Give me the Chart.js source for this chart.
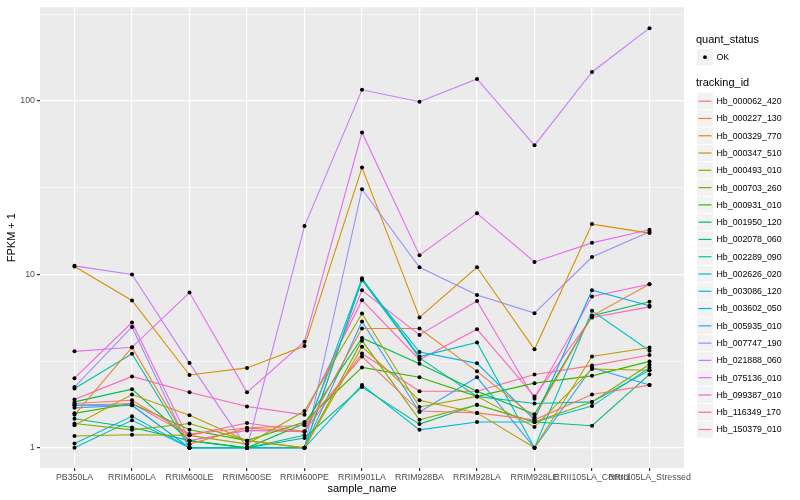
<!DOCTYPE html>
<html>
<head>
<meta charset="utf-8">
<script src="https://cdn.jsdelivr.net/npm/chart.js@4.4.1/dist/chart.umd.min.js"></script>
<style>
  body { margin: 0; background: #fff; }
  canvas { display: block; }
</style>
</head>
<body>
<canvas id="fpkm" width="800" height="500"></canvas>
<script>
// sample names on the x axis
const samples = ["PB350LA", "RRIM600LA", "RRIM600LE", "RRIM600SE", "RRIM600PE", "RRIM901LA",
  "RRIM928BA", "RRIM928LA", "RRIM928LE", "RRII105LA_Control", "RRII105LA_Stressed"];

// FPKM + 1 per tracking id, one value per sample
const hb_000062_420 = [1.8, 1.88, 1.2, 1.3, 1.35, 3.36, 1.63, 1.59, 1.45, 2.03, 2.3];
const hb_000227_130 = [1.55, 3.79, 1.05, 1.3, 1.24, 4.88, 4.88, 2.76, 1.5, 5.77, 8.77];
const hb_000329_770 = [11.1, 7.07, 2.63, 2.89, 3.86, 41.3, 5.65, 11.0, 3.7, 19.5, 17.3];
const hb_000347_510 = [1.35, 2.03, 1.54, 1.1, 1.0, 3.83, 1.88, 1.59, 1.0, 3.36, 3.79];
const hb_000493_010 = [1.17, 1.19, 1.18, 1.05, 1.63, 5.95, 1.72, 1.98, 1.32, 2.85, 2.8];
const hb_000703_260 = [1.38, 1.27, 1.38, 1.1, 1.0, 4.15, 1.45, 1.77, 1.41, 1.84, 3.02];
const hb_000931_010 = [1.58, 1.8, 1.27, 1.1, 1.41, 2.91, 2.55, 1.98, 2.36, 2.6, 3.15];
const hb_001950_120 = [1.84, 2.18, 1.1, 1.0, 1.38, 4.3, 3.05, 2.12, 1.56, 5.77, 6.96];
const hb_002078_060 = [1.47, 1.31, 1.1, 1.0, 1.14, 2.24, 1.37, 1.77, 1.41, 1.34, 2.65];
const hb_002289_090 = [2.2, 3.49, 1.0, 1.0, 1.0, 9.3, 3.3, 1.98, 1.8, 1.84, 2.8];
const hb_002626_020 = [1.0, 1.44, 1.0, 1.0, 1.18, 9.5, 3.36, 4.05, 1.0, 6.17, 3.63];
const hb_003086_120 = [1.06, 1.52, 1.0, 1.0, 1.0, 2.3, 1.27, 1.41, 1.41, 1.74, 2.9];
const hb_003602_050 = [1.76, 1.76, 1.0, 1.0, 1.0, 9.3, 3.57, 3.07, 1.45, 8.1, 6.6];
const hb_005935_010 = [1.7, 1.76, 1.0, 1.0, 1.0, 5.35, 1.61, 2.55, 1.0, 2.9, 2.3];
const hb_007747_190 = [2.24, 4.98, 1.0, 1.0, 1.0, 31, 11.0, 7.6, 5.98, 12.6, 17.6];
const hb_021888_060 = [11.2, 10, 3.08, 1.0, 19, 116, 99, 134, 55.5, 147, 263];
const hb_075136_010 = [3.6, 3.8, 7.86, 2.09, 4.09, 65.9, 12.9, 22.5, 11.8, 15.2, 18.1];
const hb_099387_010 = [2.52, 5.28, 1.1, 1.26, 1.24, 8.1, 4.48, 7.02, 1.92, 7.45, 8.77];
const hb_116349_170 = [1.9, 2.58, 2.09, 1.73, 1.55, 7.1, 3.22, 4.83, 1.98, 5.65, 6.5];
const hb_150379_010 = [1.76, 1.8, 1.18, 1.39, 1.24, 3.5, 2.12, 2.12, 2.65, 2.98, 3.43];

const trackingIds = ["Hb_000062_420", "Hb_000227_130", "Hb_000329_770", "Hb_000347_510",
  "Hb_000493_010", "Hb_000703_260", "Hb_000931_010", "Hb_001950_120", "Hb_002078_060",
  "Hb_002289_090", "Hb_002626_020", "Hb_003086_120", "Hb_003602_050", "Hb_005935_010",
  "Hb_007747_190", "Hb_021888_060", "Hb_075136_010", "Hb_099387_010", "Hb_116349_170",
  "Hb_150379_010"];
const seriesValues = [hb_000062_420, hb_000227_130, hb_000329_770, hb_000347_510,
  hb_000493_010, hb_000703_260, hb_000931_010, hb_001950_120, hb_002078_060,
  hb_002289_090, hb_002626_020, hb_003086_120, hb_003602_050, hb_005935_010,
  hb_007747_190, hb_021888_060, hb_075136_010, hb_099387_010, hb_116349_170,
  hb_150379_010];

const yTicks = [1, 3.1623, 10, 31.623, 100, 316.23];
const yMajor = [1, 10, 100];

const FONT = '"Liberation Sans", Arial, sans-serif';

// ggplot style hue palette (hcl with c=100, l=65)
function hcl(h, c, l) {
  const hr = h * Math.PI / 180;
  const U = c * Math.cos(hr), V = c * Math.sin(hr);
  const Xn = 95.047, Yn = 100, Zn = 108.883;
  const Y = Yn * Math.pow((l + 16) / 116, 3);
  const t = Xn + 15 * Yn + 3 * Zn;
  const u = U / (13 * l) + 4 * Xn / t;
  const v = V / (13 * l) + 9 * Yn / t;
  const X = Y * 9 * u / (4 * v);
  const Z = Y * (12 - 3 * u - 20 * v) / (4 * v);
  const x = X / 100, y = Y / 100, z = Z / 100;
  const lin = [
    3.240479 * x - 1.537150 * y - 0.498535 * z,
    -0.969256 * x + 1.875992 * y + 0.041556 * z,
    0.055648 * x - 0.204043 * y + 1.057311 * z
  ];
  const rgb = lin.map(ch => {
    let g = ch <= 0.0031308 ? 12.92 * ch : 1.055 * Math.pow(ch, 1 / 2.4) - 0.055;
    return Math.round(Math.min(1, Math.max(0, g)) * 255);
  });
  return `rgb(${rgb[0]},${rgb[1]},${rgb[2]})`;
}
const colours = trackingIds.map((id, i) => hcl(15 + i * 360 / trackingIds.length, 100, 65));

const lineSets = trackingIds.map((id, i) => ({
  label: id,
  data: seriesValues[i].map((v, j) => ({ x: j, y: v })),
  borderColor: colours[i],
  backgroundColor: colours[i],
  borderWidth: 1.1,
  pointRadius: 0,
  tension: 0,
  order: 1
}));

// all the points, drawn on top of the lines
const pointSet = {
  label: "OK",
  isPoints: true,
  data: seriesValues.flatMap(vals => vals.map((v, j) => ({ x: j, y: v }))),
  showLine: false,
  pointRadius: 2,
  pointBackgroundColor: "#000",
  pointBorderWidth: 0,
  order: 0
};

const ggPlugin = {
  id: "ggLook",
  beforeDraw(chart) {
    const { ctx, chartArea: a } = chart;
    ctx.save();
    ctx.fillStyle = "#fff";
    ctx.fillRect(0, 0, chart.width, chart.height);
    ctx.fillStyle = "#EBEBEB";
    ctx.fillRect(a.left, a.top, a.right - a.left, a.bottom - a.top);
    ctx.restore();
  },
  afterDraw(chart) {
    const { ctx, chartArea: a } = chart;
    ctx.save();
    ctx.fillStyle = "#000";
    ctx.font = "11px " + FONT;
    ctx.textAlign = "center";
    ctx.textBaseline = "middle";
    ctx.fillText("sample_name", (a.left + a.right) / 2, 489);
    ctx.translate(12, (a.top + a.bottom) / 2);
    ctx.rotate(-Math.PI / 2);
    ctx.fillText("FPKM + 1", 0, 0);
    ctx.restore();

    // legend
    ctx.save();
    const lx = 697, kw = 16, kh = 16.3;
    ctx.textAlign = "left";
    ctx.textBaseline = "middle";
    ctx.fillStyle = "#000";
    ctx.font = "11px " + FONT;
    ctx.fillText("quant_status", 696, 40);
    ctx.fillStyle = "#F2F2F2";
    ctx.fillRect(lx, 49, kw, kh);
    ctx.fillStyle = "#000";
    ctx.beginPath();
    ctx.arc(lx + kw / 2, 49 + kh / 2, 1.9, 0, Math.PI * 2);
    ctx.fill();
    ctx.font = "8.8px " + FONT;
    ctx.fillText("OK", 716.5, 57.5);

    ctx.font = "11px " + FONT;
    ctx.fillText("tracking_id", 696, 83);
    const sets = chart.data.datasets.filter(d => !d.isPoints);
    sets.forEach((d, i) => {
      const cy = 101.2 + i * 17.28;
      ctx.fillStyle = "#F2F2F2";
      ctx.fillRect(lx, cy - kh / 2, kw, kh);
      ctx.strokeStyle = d.borderColor;
      ctx.lineWidth = 1.2;
      ctx.beginPath();
      ctx.moveTo(lx + 1.5, cy);
      ctx.lineTo(lx + kw - 1.5, cy);
      ctx.stroke();
      ctx.fillStyle = "#000";
      ctx.font = "8.8px " + FONT;
      ctx.fillText(d.label, 716.5, cy + 0.5);
    });
    ctx.restore();
  }
};

new Chart(document.getElementById("fpkm"), {
  type: "line",
  data: { datasets: [pointSet, ...lineSets] },
  options: {
    responsive: false,
    animation: false,
    layout: { padding: { left: 0, right: 116, top: 5, bottom: 0 } },
    plugins: { legend: { display: false }, tooltip: { enabled: false } },
    scales: {
      x: {
        type: "linear",
        min: -0.6,
        max: 10.6,
        afterBuildTicks: s => { s.ticks = samples.map((n, i) => ({ value: i })); },
        afterFit: s => { s.height = 32; s.paddingLeft = 0; s.paddingRight = 0; },
        ticks: {
          autoSkip: false, maxRotation: 0, minRotation: 0, padding: 1.5,
          color: "#4D4D4D", font: { family: FONT, size: 8.8 },
          callback: v => samples[v]
        },
        grid: { color: "#fff", lineWidth: 1.2, tickColor: "#333", tickLength: 3 },
        border: { display: false }
      },
      y: {
        type: "logarithmic",
        min: 0.765,
        max: 347,
        afterBuildTicks: s => { s.ticks = yTicks.map(v => ({ value: v })); },
        afterFit: s => { s.width = 40; },
        ticks: {
          autoSkip: false, padding: 2,
          color: "#4D4D4D", font: { family: FONT, size: 8.8 },
          callback: v => yMajor.includes(v) ? String(v) : ""
        },
        grid: {
          color: "#fff",
          lineWidth: c => (c.tick && yMajor.includes(c.tick.value)) ? 1.2 : 0.6,
          tickColor: c => (c.tick && yMajor.includes(c.tick.value)) ? "#333" : "rgba(0,0,0,0)",
          tickLength: 3
        },
        border: { display: false }
      }
    }
  },
  plugins: [ggPlugin]
});
</script>
</body>
</html>
